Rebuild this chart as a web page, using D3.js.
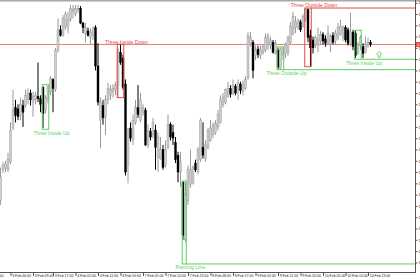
<!DOCTYPE html>
<html><head><meta charset="utf-8">
<script src="https://cdn.jsdelivr.net/npm/d3@7/dist/d3.min.js"></script>
<style>html,body{margin:0;padding:0;background:#fff;overflow:hidden}svg{display:block}</style>
</head><body>
<svg id="c" width="420" height="280"></svg>
<script>
// ---- data (EURUSD-like H1 candles) ----
const opens = [1.3355,1.3382,1.3383,1.3382,1.3389,1.3419,1.3437,1.3436,1.3430,1.3439,1.3439,1.3444,1.3450,1.3442,1.3444,1.3447,1.3445,1.3455,1.3435,1.3444,
1.3451,1.3462,1.3453,1.3488,1.3506,1.3501,1.3508,1.3509,1.3515,1.3522,1.3520,1.3524,1.3525,1.3512,1.3503,1.3505,1.3499,1.3501,1.3508,1.3474,
1.3426,1.3439,1.3429,1.3444,1.3448,1.3451,1.3453,1.3457,1.3486,1.3481,1.3458,1.3386,1.3419,1.3408,1.3424,1.3437,1.3426,1.3433,1.3435,1.3404,
1.3416,1.3413,1.3417,1.3393,1.3392,1.3400,1.3386,1.3402,1.3422,1.3415,1.3406,1.3395,1.3380,1.3371,1.3320,1.3355,1.3369,1.3370,1.3388,1.3380,
1.3391,1.3402,1.3392,1.3402,1.3408,1.3413,1.3415,1.3420,1.3424,1.3440,1.3442,1.3447,1.3454,1.3450,1.3456,1.3453,1.3458,1.3451,1.3454,1.3463,
1.3493,1.3495,1.3483,1.3489,1.3483,1.3486,1.3488,1.3495,1.3492,1.3495,1.3485,1.3488,1.3472,1.3484,1.3484,1.3486,1.3495,1.3503,1.3508,1.3508,
1.3513,1.3509,1.3515,1.3524,1.3501,1.3497,1.3493,1.3492,1.3496,1.3502,1.3498,1.3494,1.3493,1.3501,1.3496,1.3500,1.3502,1.3499,1.3508,1.3506,
1.3494,1.3504,1.3503,1.3485,1.3492,1.3491,1.3486,1.3492,1.3495];
const highs = [1.3384,1.3389,1.3390,1.3397,1.3424,1.3453,1.3444,1.3440,1.3446,1.3444,1.3453,1.3454,1.3453,1.3451,1.3451,1.3477,1.3448,1.3456,1.3448,1.3457,
1.3465,1.3463,1.3490,1.3516,1.3510,1.3519,1.3522,1.3522,1.3528,1.3528,1.3528,1.3528,1.3527,1.3513,1.3512,1.3508,1.3507,1.3509,1.3510,1.3494,
1.3446,1.3444,1.3448,1.3459,1.3457,1.3458,1.3460,1.3490,1.3493,1.3484,1.3462,1.3419,1.3424,1.3431,1.3444,1.3457,1.3450,1.3440,1.3437,1.3422,
1.3419,1.3428,1.3422,1.3415,1.3411,1.3404,1.3408,1.3431,1.3424,1.3422,1.3411,1.3398,1.3398,1.3372,1.3371,1.3386,1.3400,1.3386,1.3391,1.3402,
1.3428,1.3424,1.3408,1.3419,1.3426,1.3424,1.3426,1.3435,1.3448,1.3450,1.3454,1.3460,1.3457,1.3462,1.3458,1.3462,1.3460,1.3461,1.3465,1.3504,
1.3504,1.3497,1.3492,1.3492,1.3492,1.3493,1.3503,1.3503,1.3500,1.3497,1.3497,1.3490,1.3490,1.3490,1.3495,1.3501,1.3513,1.3522,1.3518,1.3516,
1.3515,1.3520,1.3525,1.3525,1.3506,1.3500,1.3501,1.3508,1.3505,1.3504,1.3501,1.3510,1.3502,1.3504,1.3506,1.3512,1.3515,1.3510,1.3510,1.3508,
1.3521,1.3506,1.3505,1.3495,1.3501,1.3494,1.3500,1.3499,1.3497];
const lows = [1.3351,1.3379,1.3380,1.3380,1.3387,1.3417,1.3424,1.3426,1.3426,1.3420,1.3437,1.3440,1.3439,1.3429,1.3440,1.3442,1.3433,1.3419,1.3432,1.3441,
1.3448,1.3433,1.3451,1.3486,1.3500,1.3500,1.3506,1.3503,1.3513,1.3516,1.3518,1.3521,1.3511,1.3503,1.3495,1.3500,1.3493,1.3497,1.3470,1.3439,
1.3401,1.3422,1.3413,1.3440,1.3444,1.3446,1.3448,1.3446,1.3475,1.3453,1.3377,1.3370,1.3407,1.3404,1.3422,1.3428,1.3424,1.3430,1.3403,1.3401,
1.3408,1.3410,1.3382,1.3380,1.3391,1.3382,1.3384,1.3400,1.3408,1.3404,1.3388,1.3371,1.3367,1.3320,1.3318,1.3351,1.3366,1.3369,1.3380,1.3378,
1.3389,1.3392,1.3389,1.3400,1.3407,1.3410,1.3413,1.3417,1.3423,1.3437,1.3440,1.3446,1.3446,1.3448,1.3448,1.3444,1.3449,1.3448,1.3453,1.3462,
1.3491,1.3463,1.3479,1.3481,1.3480,1.3484,1.3486,1.3488,1.3489,1.3485,1.3484,1.3471,1.3471,1.3479,1.3481,1.3483,1.3493,1.3501,1.3503,1.3506,
1.3504,1.3508,1.3513,1.3495,1.3474,1.3485,1.3490,1.3486,1.3493,1.3493,1.3491,1.3493,1.3486,1.3493,1.3493,1.3497,1.3501,1.3496,1.3495,1.3492,
1.3492,1.3488,1.3481,1.3484,1.3488,1.3481,1.3485,1.3490,1.3491];
const closes = [1.3375,1.3386,1.3387,1.3391,1.3417,1.3435,1.3430,1.3429,1.3440,1.3433,1.3448,1.3450,1.3444,1.3447,1.3448,1.3445,1.3440,1.3432,1.3446,1.3456,
1.3463,1.3454,1.3488,1.3506,1.3501,1.3516,1.3520,1.3515,1.3525,1.3524,1.3525,1.3525,1.3512,1.3508,1.3508,1.3501,1.3504,1.3506,1.3474,1.3442,
1.3442,1.3428,1.3444,1.3454,1.3453,1.3454,1.3457,1.3488,1.3477,1.3455,1.3380,1.3417,1.3410,1.3426,1.3437,1.3431,1.3444,1.3437,1.3404,1.3417,
1.3411,1.3424,1.3402,1.3411,1.3400,1.3384,1.3400,1.3422,1.3411,1.3410,1.3391,1.3380,1.3389,1.3324,1.3360,1.3382,1.3382,1.3384,1.3382,1.3400,
1.3426,1.3395,1.3404,1.3417,1.3419,1.3421,1.3423,1.3431,1.3444,1.3446,1.3453,1.3454,1.3449,1.3457,1.3450,1.3459,1.3452,1.3458,1.3462,1.3501,
1.3499,1.3470,1.3488,1.3484,1.3488,1.3491,1.3499,1.3501,1.3497,1.3486,1.3494,1.3473,1.3489,1.3490,1.3493,1.3499,1.3509,1.3518,1.3513,1.3514,
1.3506,1.3518,1.3524,1.3499,1.3490,1.3490,1.3499,1.3498,1.3502,1.3496,1.3494,1.3503,1.3500,1.3495,1.3503,1.3508,1.3509,1.3508,1.3497,1.3494,
1.3504,1.3491,1.3483,1.3493,1.3499,1.3485,1.3493,1.3495,1.3493];

// axis ticks
const priceTicks = [1.3530,1.3520,1.3510,1.3500,1.3490,1.3480,1.3470,1.3460,1.3450,1.3440,1.3430,1.3420,1.3410,1.3400,1.3390,1.3380,1.3370,1.3360,1.3350,1.3340,1.3330,1.3320,1.3310,1.3300];
const timeTickBars = [-7,4,13,21,30,39,48,57,66,75,84,93,102,111,120,129,138,147];
const timeTickLabels = ["2 Feb 13:00","3 Feb 00:00","3 Feb 09:00","3 Feb 17:00","4 Feb 02:00","4 Feb 11:00","4 Feb 20:00","7 Feb 05:00","7 Feb 14:00","7 Feb 23:00","8 Feb 08:00","8 Feb 17:00","9 Feb 02:00","9 Feb 11:00","9 Feb 20:00","10 Feb 05:00","10 Feb 14:00","10 Feb 23:00"];

// candlestick pattern annotations
const patternNames  = ["Three Inside Up","Three Inside Down","Piercing Line","Three Outside Up","Three Outside Down","Three Inside Up"];
const patternStart  = [17,47,73,111,122,142];
const patternEnd    = [19,49,74,113,124,144];
const patternTop    = [1.34574,1.34932,1.33721,1.34908,1.35253,1.35056];
const patternBottom = [1.34179,1.34459,1.32986,1.34707,1.34733,1.34799];
const patternBull   = [true,false,true,true,false,true];
const patternExtend = ["none","none","bottom","bottom","top","bottom"];
const arrowBar = 151.5, arrowPrice = 1.3487;

// ---- drawing ----
const W = 420, H = 280, plotR = 415, plotB = 272;
const RED = "#e84646", REDLINE = "#f07a7a", GREEN = "#5ccf5c";
const svg = d3.select("#c");
const x = d3.scaleLinear().domain([0, 166]).range([0.5, 415.5]);
const y = d3.scaleLinear().domain([1.3520, 1.3300]).range([14, 262.38]);

svg.append("rect").attr("width", W).attr("height", H).attr("fill", "#fff");
// top border
svg.append("line").attr("x1",0).attr("x2",W).attr("y1",0.75).attr("y2",0.75).attr("stroke","#a8a8a8").attr("stroke-width",1.5);

// bid line (last close)
const lastClose = closes[closes.length-1];
svg.append("line").attr("x1",0).attr("x2",plotR).attr("y1",y(lastClose)).attr("y2",y(lastClose))
  .attr("stroke",REDLINE).attr("stroke-width",1);

// candles
const data = opens.map((o,i)=>({i,o,h:highs[i],l:lows[i],c:closes[i]}));
const g = svg.append("g");
const cg = g.selectAll("g.cd").data(data).join("g");
cg.append("line")
  .attr("x1",d=>x(d.i)).attr("x2",d=>x(d.i))
  .attr("y1",d=>y(d.h)).attr("y2",d=>y(d.l))
  .attr("stroke",d=>d.c>=d.o?"#9a9a9a":"#000").attr("stroke-width",1);
cg.append("rect")
  .attr("x",d=>x(d.i)-1).attr("width",2)
  .attr("y",d=>y(Math.max(d.o,d.c)))
  .attr("height",d=>Math.max(0.8, Math.abs(y(d.o)-y(d.c))))
  .attr("fill",d=>d.c>=d.o?"#cfcfcf":"#000")
  .attr("stroke",d=>d.c>=d.o?"#8e8e8e":"#000").attr("stroke-width",0.4);

// pattern rectangles, extension lines and labels
patternNames.forEach((name,k)=>{
  const col = patternBull[k] ? GREEN : RED;
  const x0 = x(patternStart[k]) - 0.75, x1 = x(patternEnd[k]) + 0.75;
  const yt = y(patternTop[k]), yb = y(patternBottom[k]);
  svg.append("rect").attr("x",x0).attr("y",yt).attr("width",x1-x0).attr("height",yb-yt)
    .attr("fill","none").attr("stroke",col).attr("stroke-width",1);
  if (patternExtend[k] !== "none") {
    const ly = patternExtend[k]==="top" ? yt : yb;
    svg.append("line").attr("x1",x1).attr("x2",plotR).attr("y1",ly).attr("y2",ly)
      .attr("stroke",col).attr("stroke-width",1);
  }
  const cx = (x0+x1)/2 + 6;
  svg.append("text").attr("x",cx).attr("y", patternBull[k] ? yb+5.3 : yt-0.6)
    .attr("text-anchor","middle").attr("font-family","Liberation Sans, Arial, sans-serif")
    .attr("font-size",5.1).attr("fill",col).text(name);
});

// up arrow mark
const ax = x(arrowBar), ay = y(arrowPrice);
svg.append("path")
  .attr("d",`M${ax},${ay} l2.6,2.6 h-1.4 v3.4 h-2.4 v-3.4 h-1.4 z`)
  .attr("fill","#fff").attr("stroke",GREEN).attr("stroke-width",0.8);

// right price axis
svg.append("line").attr("x1",plotR+0.5).attr("x2",plotR+0.5).attr("y1",0).attr("y2",plotB)
  .attr("stroke","#555").attr("stroke-width",1);
const ya = svg.append("g").attr("transform",`translate(${plotR+0.5},0)`)
  .call(d3.axisRight(y).tickValues(priceTicks).tickSize(2).tickPadding(1).tickFormat(d3.format(".4f")));
ya.select(".domain").remove();
ya.selectAll("line").attr("stroke","#555");
ya.selectAll("text").attr("font-size",4).attr("font-family","Liberation Sans, Arial, sans-serif").attr("fill","#222");

// current price tag
svg.append("rect").attr("x",plotR+1).attr("y",y(lastClose)-2.5).attr("width",12).attr("height",5).attr("fill",RED);
svg.append("text").attr("x",plotR+2).attr("y",y(lastClose)+1.4).attr("font-size",4)
  .attr("font-family","Liberation Sans, Arial, sans-serif").attr("fill","#fff").text(d3.format(".4f")(lastClose));

// bottom time axis
svg.append("line").attr("x1",0).attr("x2",plotR+1).attr("y1",plotB+0.5).attr("y2",plotB+0.5)
  .attr("stroke","#555").attr("stroke-width",1);
const xa = svg.append("g").attr("transform",`translate(0,${plotB+0.5})`)
  .call(d3.axisBottom(x).tickValues(timeTickBars).tickSize(3.5).tickFormat((d,i)=>timeTickLabels[i]));
xa.select(".domain").remove();
xa.selectAll("line").attr("stroke","#555");
xa.selectAll("text").attr("text-anchor","start").attr("dx","1.2").attr("y",1.2).attr("dy","2.9")
  .attr("font-size",3.5).attr("font-family","Liberation Sans, Arial, sans-serif").attr("fill","#222");
</script>
</body></html>
